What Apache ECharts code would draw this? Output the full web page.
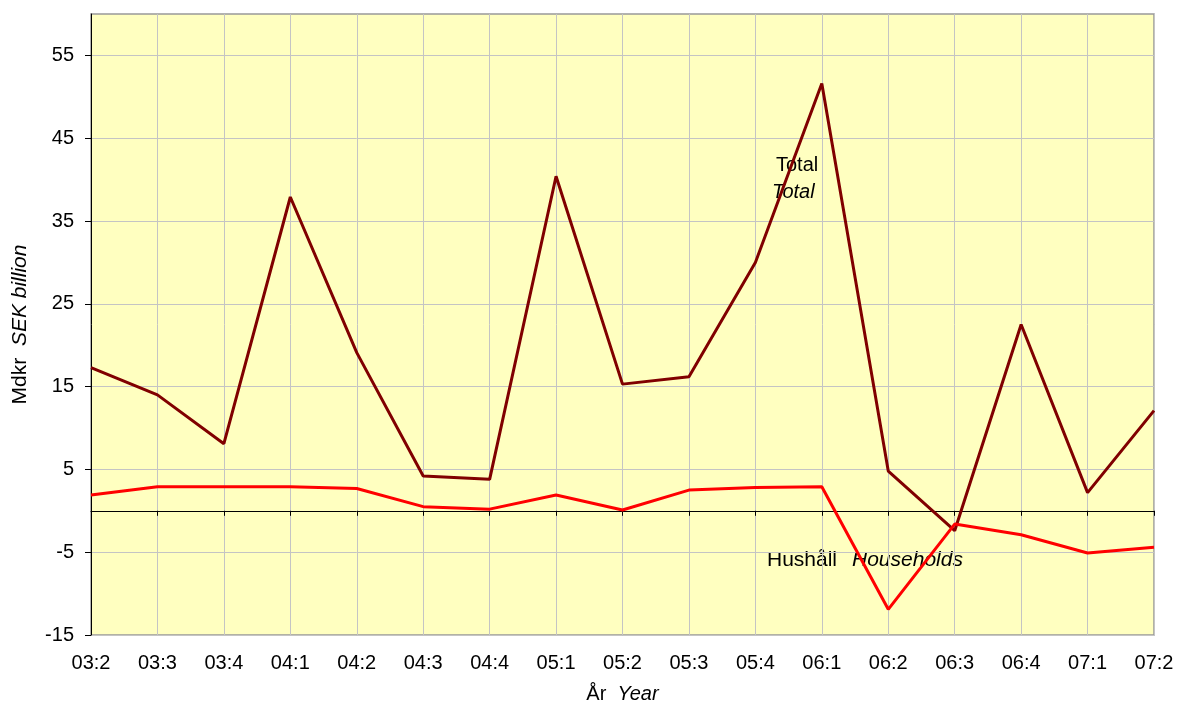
<!DOCTYPE html>
<html><head><meta charset="utf-8">
<script src="https://cdn.jsdelivr.net/npm/echarts@6/dist/echarts.min.js"></script>
<style>html,body{margin:0;padding:0;background:#fff}#c{width:1177px;height:706px}</style>
</head><body><div id="c"></div>
<script>
const categories = ['03:2','03:3','03:4','04:1','04:2','04:3','04:4','05:1','05:2','05:3','05:4','06:1','06:2','06:3','06:4','07:1','07:2'];
const totalValues = [17.3, 14.0, 8.1, 37.9, 19.1, 4.2, 3.8, 40.4, 15.3, 16.2, 30.0, 51.6, 4.8, -2.4, 22.5, 2.2, 12.1];
const householdValues = [1.9, 2.9, 2.9, 2.9, 2.7, 0.5, 0.2, 1.9, 0.1, 2.5, 2.8, 2.9, -11.9, -1.6, -2.9, -5.1, -4.4];
const yTicks = [-15, -5, 5, 15, 25, 35, 45, 55];

const font = 'Liberation Sans, Arial, Helvetica, sans-serif';
const fs = 20;
const chart = echarts.init(document.getElementById('c'), null, {renderer: 'canvas'});
chart.setOption({
  animation: false,
  textStyle: {fontFamily: font},
  grid: {left: 91, right: 23, top: 14, bottom: 71, outerBoundsMode: 'none', containLabel: false,
    show: true, backgroundColor: '#FFFFC0', borderColor: '#999999', borderWidth: 1.5},
  xAxis: [{
    type: 'category', data: categories, boundaryGap: false, position: 'bottom',
    axisLine: {show: false, onZero: false}, axisTick: {show: false},
    axisLabel: {color: '#000', fontSize: fs, margin: 18, fontFamily: font, interval: 0},
    splitLine: {show: true, lineStyle: {color: '#c4c4c4', width: 1}},
    name: '{a|År}  {b|Year}', nameLocation: 'middle', nameGap: 49,
    nameTextStyle: {color: '#000', fontSize: fs, rich: {a: {fontSize: fs, fontFamily: font, color: '#000'}, b: {fontSize: fs, fontStyle: 'italic', fontFamily: font, color: '#000'}}}
  }, {
    type: 'category', data: categories, boundaryGap: false, position: 'bottom',
    axisLine: {show: true, onZero: true, lineStyle: {color: '#000', width: 1}},
    axisTick: {show: true, inside: false, length: 5, lineStyle: {color: '#000'}, interval: 0},
    axisLabel: {show: false}, splitLine: {show: false}
  }],
  yAxis: {
    type: 'value', min: -15, max: 60, interval: 10,
    axisLine: {show: true, onZero: false, lineStyle: {color: '#000', width: 1}},
    axisTick: {show: true, length: 6, lineStyle: {color: '#000'}, customValues: yTicks},
    axisLabel: {color: '#000', fontSize: fs, margin: 17, fontFamily: font, customValues: yTicks},
    splitLine: {show: true, lineStyle: {color: '#c4c4c4', width: 1}},
    name: '{a|Mdkr}  {b|SEK billion}', nameLocation: 'middle', nameGap: 60, nameRotate: 90,
    nameTextStyle: {color: '#000', fontSize: 21, rich: {a: {fontSize: 21, fontFamily: font, color: '#000'}, b: {fontSize: 21, fontStyle: 'italic', fontFamily: font, color: '#000'}}}
  },
  series: [{
    name: 'Total', type: 'line', data: totalValues, xAxisIndex: 0, symbol: 'none',
    lineStyle: {color: '#800000', width: 3}, z: 3
  }, {
    name: 'Households', type: 'line', data: householdValues, xAxisIndex: 0, symbol: 'none',
    lineStyle: {color: '#FF0000', width: 3}, z: 4
  }],
  graphic: [
    {type: 'text', left: 776, top: 155, style: {text: 'Total', font: '20px ' + font, fill: '#000'}},
    {type: 'text', left: 772, top: 182, style: {text: 'Total', font: 'italic 20px ' + font, fill: '#000'}},
    {type: 'text', left: 767, top: 550, style: {text: 'Hushåll', font: '21px ' + font, fill: '#000'}},
    {type: 'text', left: 852, top: 550, style: {text: 'Households', font: 'italic 21px ' + font, fill: '#000'}}
  ]
});
</script></body></html>
